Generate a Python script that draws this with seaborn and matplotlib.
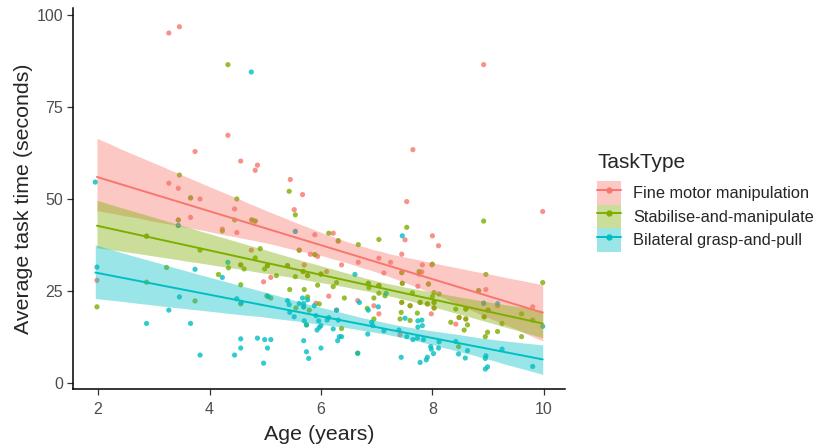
import matplotlib
matplotlib.use("Agg")
import matplotlib.pyplot as plt
import seaborn as sns
import pandas as pd
from matplotlib.patches import Patch
from matplotlib.lines import Line2D
from matplotlib.collections import PolyCollection

# values
fine_age = [3.27, 3.46, 4.33, 3.74, 4.56, 3.44, 3.83, 3.27, 3.66, 4.86, 4.82, 5.45, 5.67, 8.92, 7.65,
            4.45, 3.44, 3.66, 3.44, 2.87, 4.23, 4.49, 4.56, 1.98, 5.52, 4.76, 4.82, 5.54, 5.89, 6.22,
            6.31, 4.75, 5.61, 5.81, 5.89, 5.94, 7.04, 6.37, 6.67, 7.25, 5.04, 5.40, 5.70, 5.68,
            5.76, 6.00, 6.10, 7.13, 4.97, 5.10, 6.85, 7.04, 6.14, 6.66, 5.91, 5.69, 6.95, 7.04,
            6.28, 7.42, 7.54, 9.98, 7.51, 8.00, 8.11, 7.45, 7.82, 7.99, 7.45, 7.46, 7.76, 7.81, 7.74,
            7.93, 8.83, 8.96, 7.45, 7.78, 7.91, 8.03, 7.60, 8.03, 7.98, 9.00, 8.60, 8.93, 8.48, 8.60,
            8.42, 9.80, 9.17, 8.92]
fine_time = [95.1, 96.8, 67.3, 62.9, 60.3, 52.9, 50.0, 54.3, 50.3, 59.2, 57.8, 55.3, 51.2, 86.5, 63.4,
             47.3, 44.3, 45.0, 42.8, 39.9, 41.8, 40.9, 32.1, 27.9, 47.1, 44.3, 44.0, 41.2, 40.3, 40.7,
             38.5, 36.1, 36.1, 35.0, 34.9, 34.4, 33.9, 32.1, 32.8, 32.8, 31.9, 31.9, 32.1, 30.3,
             29.2, 29.6, 30.3, 29.9, 27.5, 28.7, 27.1, 26.5, 23.6, 22.4, 21.7, 20.7, 21.0, 18.8,
             19.8, 13.1, 49.3, 46.6, 38.9, 40.0, 37.3, 35.0, 32.1, 32.1, 30.0, 27.1, 29.6, 30.2, 26.3,
             26.9, 25.1, 25.4, 21.9, 21.9, 21.5, 21.9, 21.0, 20.4, 18.8, 19.8, 20.1, 18.0, 17.8, 17.4,
             16.0, 20.7, 21.0, 21.7]

stab_age = [4.33, 3.46, 3.66, 4.49, 5.43, 3.44, 4.45, 2.87, 4.23, 3.83, 4.34, 4.56, 3.23,
            4.16, 2.87, 4.56, 3.74, 4.56, 1.98, 5.54, 4.76, 4.82, 6.14, 6.31, 6.67, 7.04, 4.91, 5.61,
            5.89, 4.82, 4.62, 5.04, 4.99, 5.40, 5.20, 5.68, 5.54, 5.76, 6.00, 6.85, 7.04, 5.94,
            6.28, 6.22, 6.86, 5.44, 5.70, 7.04, 6.95, 6.42, 7.15, 5.03, 5.10, 5.97, 5.76,
            5.55, 5.79, 6.83, 5.74, 6.37, 6.95, 6.66, 8.92, 7.54, 8.00, 8.96, 9.98, 7.45, 7.46, 7.76,
            7.64, 7.93, 8.03, 8.12, 8.00, 8.83, 7.45, 7.78, 7.91, 8.03, 7.60, 8.03, 7.44, 7.42, 7.73,
            8.42, 9.00, 8.60, 8.93, 8.48, 8.60, 8.33, 9.25, 9.60, 9.80, 8.99, 8.95, 9.17, 9.60, 8.63,
            8.57, 8.47, 7.60]
stab_time = [86.5, 56.5, 50.3, 50.0, 52.1, 44.3, 44.3, 39.9, 41.3, 36.1, 31.3, 32.1, 31.4,
             29.5, 27.4, 26.7, 22.3, 21.5, 20.7, 45.7, 44.3, 44.0, 40.7, 38.7, 37.6, 39.0, 36.5, 36.1,
             34.9, 34.0, 31.0, 31.9, 31.0, 31.9, 29.2, 30.3, 28.9, 29.2, 29.6, 27.1, 26.5, 26.6,
             27.3, 26.2, 25.9, 25.4, 25.4, 24.4, 23.1, 23.1, 23.7, 23.7, 23.1, 21.5, 23.4,
             20.4, 19.8, 20.3, 15.8, 14.8, 17.4, 8.1, 44.0, 42.3, 32.3, 29.5, 27.3, 30.0, 27.1, 30.3,
             24.5, 26.9, 24.6, 24.2, 23.5, 25.1, 21.9, 21.9, 21.5, 21.9, 21.0, 20.4, 19.2, 17.4, 19.0,
             20.1, 19.8, 20.1, 18.0, 17.8, 17.4, 16.5, 16.2, 18.8, 17.1, 13.8, 12.6, 14.0, 12.6, 15.8,
             14.4, 9.9, 17.0]

bil_age = [1.95, 4.75, 7.46, 3.44, 4.33, 3.74, 4.23, 1.98, 3.46, 4.49, 3.27, 2.87, 3.66, 4.56, 4.56,
           3.83, 4.45, 5.54, 6.61, 7.17, 5.05, 4.57, 6.69, 5.88, 5.40, 5.43, 5.67, 5.76, 5.61, 5.69,
           5.69, 6.85, 6.28, 7.03, 5.44, 5.52, 5.91, 5.96, 6.00, 5.93, 5.97, 5.70, 5.74, 6.11, 6.14,
           6.31, 6.22, 6.91, 6.93, 6.84, 7.13, 5.69, 6.30, 6.33, 6.37, 4.86, 4.99, 5.10, 5.04, 5.74,
           5.78, 6.00, 6.66, 4.97, 7.51, 8.92, 9.17, 9.98, 7.74, 7.81, 7.82, 7.74,
           7.40, 7.54, 7.65, 7.73, 7.84, 8.12, 8.11, 7.97, 7.98, 8.02, 7.91, 7.89, 7.78, 7.44, 8.42,
           8.47, 8.59, 8.63, 8.96, 8.95, 8.99, 8.95, 9.25, 9.80]
bil_time = [54.6, 84.5, 40.0, 42.8, 32.8, 30.9, 28.7, 31.5, 23.4, 22.9, 19.8, 16.2, 16.2, 12.0, 9.5,
            7.6, 7.6, 41.2, 29.5, 24.4, 23.5, 21.9, 21.9, 21.0, 22.4, 21.3, 23.1, 22.6, 21.6, 21.6,
            20.7, 19.8, 19.8, 20.7, 19.2, 18.0, 18.3, 16.9, 15.6, 14.4, 15.1, 16.9, 15.8, 17.1, 17.8,
            17.1, 14.7, 16.5, 15.6, 13.3, 14.2, 11.5, 11.5, 12.6, 12.6, 12.2, 11.8, 11.8, 9.5, 8.5,
            6.7, 9.5, 8.1, 5.4, 17.6, 21.7, 21.6, 15.4, 16.9, 17.1, 15.6, 15.2,
            14.4, 12.6, 11.8, 12.2, 11.8, 11.2, 9.5, 9.9, 9.2, 8.0, 7.0, 6.3, 5.6, 7.0, 11.3,
            7.9, 6.8, 8.8, 7.4, 6.7, 4.4, 3.8, 9.2, 4.5]

task_names = ["Fine motor manipulation", "Stabilise-and-manipulate", "Bilateral grasp-and-pull"]
task_colors = ["#F8766D", "#7CAE00", "#00BFC4"]

df = pd.concat([
    pd.DataFrame({"Age": fine_age, "Time": fine_time, "TaskType": task_names[0]}),
    pd.DataFrame({"Age": stab_age, "Time": stab_time, "TaskType": task_names[1]}),
    pd.DataFrame({"Age": bil_age, "Time": bil_time, "TaskType": task_names[2]}),
], ignore_index=True)

sns.set_theme(style="ticks")
plt.rcParams['font.family'] = ['Liberation Sans', 'DejaVu Sans']

fig = plt.figure(figsize=(8.18, 4.48), dpi=100)
ax = fig.add_axes([73 / 818, 1 - 389.3 / 448, (565 - 73) / 818, (389.3 - 7.6) / 448])

palette = dict(zip(task_names, task_colors))
sns.scatterplot(data=df, x="Age", y="Time", hue="TaskType", palette=palette,
                s=14, alpha=0.8, linewidth=0, legend=False, ax=ax)
for name, col in zip(task_names, task_colors):
    sub = df[df.TaskType == name]
    sns.regplot(data=sub, x="Age", y="Time", scatter=False, color=col, ci=95,
                n_boot=1000, seed=3, truncate=True, line_kws=dict(lw=1.4), ax=ax)
for coll in ax.collections:
    if isinstance(coll, PolyCollection):
        coll.set_alpha(0.4)
        coll.set_linewidth(0)

ax.set_xlim(1.55, 10.38)
ax.set_ylim(-1.7, 102)
ax.set_xticks([2, 4, 6, 8, 10])
ax.set_yticks([0, 25, 50, 75, 100])
ax.tick_params(labelsize=11.5, labelcolor="#4D4D4D", length=4, width=0.9,
               color="#333333", pad=3)
ax.tick_params(axis="x", pad=5)
ax.set_xlabel("Age (years)", fontsize=15.4, labelpad=6)
ax.set_ylabel("Average task time (seconds)", fontsize=15.4, labelpad=2.5)
for sp in ["left", "bottom"]:
    ax.spines[sp].set_linewidth(1.1)
    ax.spines[sp].set_color("black")
sns.despine(ax=ax)

fig.text(598 / 818, 1 - 162 / 448, "TaskType", fontsize=15, va="center", ha="left")
handles = [(Patch(facecolor=c, alpha=0.4, linewidth=0),
            Line2D([], [], color=c, lw=1.4, marker="o", markersize=3.5))
           for c in task_colors]
fig.legend(handles, task_names, loc="upper left",
           bbox_to_anchor=(597 / 818, 1 - 181 / 448), frameon=False,
           fontsize=11.8, handlelength=1.46, handleheight=1.83, labelspacing=0.0,
           handletextpad=0.75, borderaxespad=0, borderpad=0)

fig.savefig("out.png", dpi=100)
